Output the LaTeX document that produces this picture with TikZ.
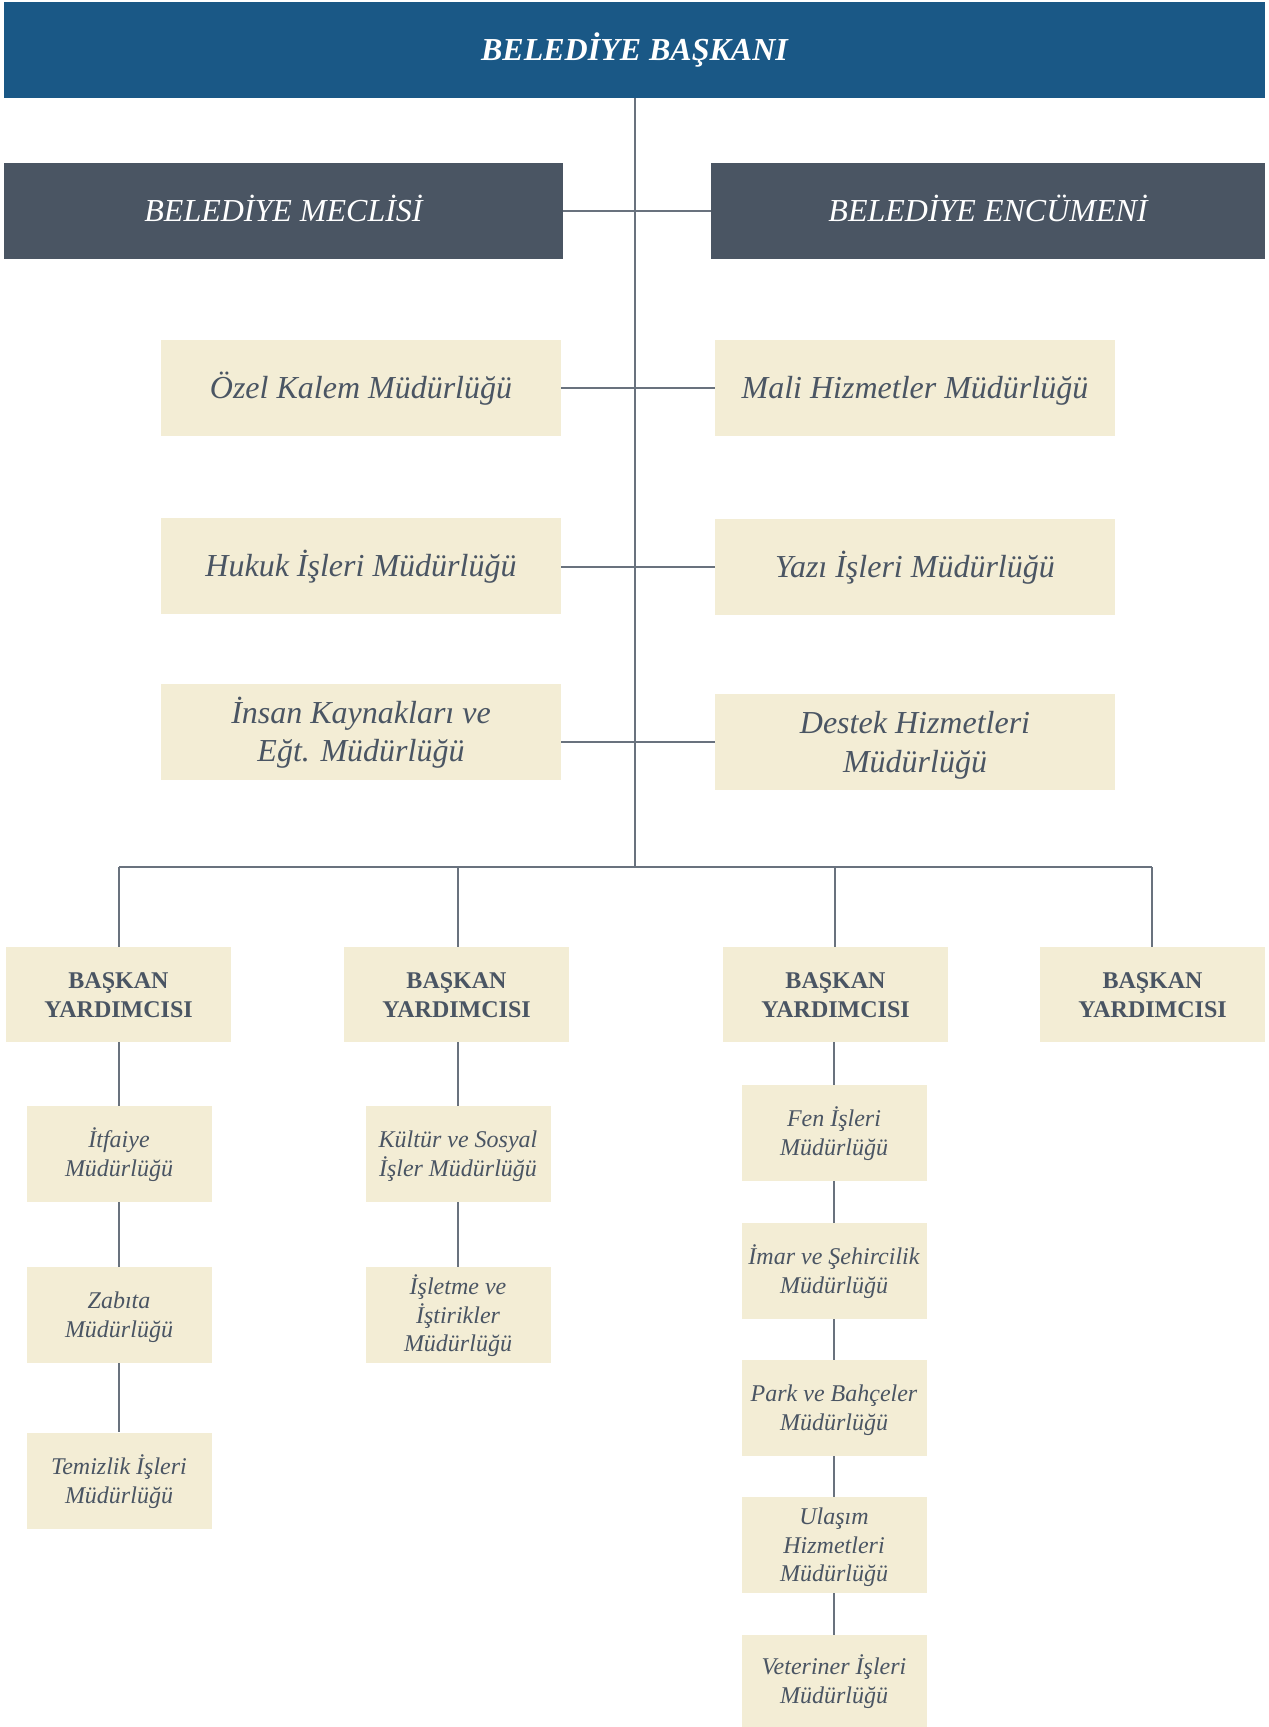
\documentclass[tikz,border=0pt]{standalone}
\usepackage{fontspec}
\setmainfont{Liberation Serif}
\definecolor{topblue}{RGB}{26,88,134}
\definecolor{slate}{RGB}{74,85,99}
\definecolor{beige}{RGB}{243,237,213}
\definecolor{conn}{RGB}{105,114,126}
\newcommand\Lst{\vrule width0pt height30pt depth8.4pt}
\newcommand\Sst{\vrule width0pt height22.5pt depth6.3pt}
\begin{document}
\begin{tikzpicture}[x=1pt,y=-1pt,
  box/.style={rectangle,inner sep=0pt,align=center,anchor=center},
  topbox/.style={box,fill=topblue,text=white,font=\fontsize{32}{38.4}\selectfont\bfseries\itshape},
  darkbox/.style={box,fill=slate,text=white,font=\fontsize{32}{38.4}\selectfont\itshape},
  deptbox/.style={box,fill=beige,text=slate,minimum width=400pt,minimum height=96pt,font=\fontsize{32}{38.4}\selectfont\itshape},
  bybox/.style={box,fill=beige,text=slate,minimum width=225pt,minimum height=95pt,font=\fontsize{24}{28.8}\selectfont\bfseries},
  subbox/.style={box,fill=beige,text=slate,minimum width=185pt,minimum height=96pt,font=\fontsize{24}{28.8}\selectfont\itshape},
  link/.style={draw=conn,line width=1.4pt}]
\useasboundingbox (0,0) rectangle (1269,1727);
% top levels
\node[topbox,minimum width=1261pt,minimum height=96pt] (bask) at (634.5,50) {\Lst BELEDİYE BAŞKANI};
\node[darkbox,minimum width=559pt,minimum height=96pt] (mec) at (283.5,211) {\Lst BELEDİYE MECLİSİ};
\node[darkbox,minimum width=554pt,minimum height=96pt] (enc) at (988,211) {\Lst BELEDİYE ENCÜMENİ};
\node[deptbox] (ozel) at (361,388) {\Lst Özel Kalem Müdürlüğü};
\node[deptbox] (mali) at (915,388) {\Lst Mali Hizmetler Müdürlüğü};
\node[deptbox] (hukuk) at (361,566) {\Lst Hukuk İşleri Müdürlüğü};
\node[deptbox] (yazi) at (915,567) {\Lst Yazı İşleri Müdürlüğü};
\node[deptbox] (insan) at (361,731.5) {\Lst İnsan Kaynakları ve\\\Lst Eğt. Müdürlüğü};
\node[deptbox] (destek) at (915,742) {\Lst Destek Hizmetleri\\\Lst Müdürlüğü};
% bus
\coordinate (busc) at (635,867);
\coordinate (busl) at (119,867);
\coordinate (busr) at (1152,867);
\draw[link] (bask.south -| busc) -- (busc);
\draw[link] (busl) -- (busr);
\draw[link] (mec.east) -- (enc.west);
\draw[link] (ozel.east) -- (mali.west);
\draw[link] (hukuk.east) -- (yazi.west -| hukuk.east);
\draw[link] (yazi.west) -- (yazi.west -| hukuk.east);
\draw[link] (destek.west) -- (destek.west -| insan.east);
% vice presidents
\node[bybox] (by1) at (118.5,994.5) {\Sst BAŞKAN\\\Sst YARDIMCISI};
\node[bybox] (by2) at (456.5,994.5) {\Sst BAŞKAN\\\Sst YARDIMCISI};
\node[bybox] (by3) at (835.5,994.5) {\Sst BAŞKAN\\\Sst YARDIMCISI};
\node[bybox] (by4) at (1152.5,994.5) {\Sst BAŞKAN\\\Sst YARDIMCISI};
\coordinate (b1) at (119,867);
\coordinate (b2) at (458,867);
\coordinate (b3) at (835,867);
\coordinate (b4) at (1152,867);
\draw[link] (b1) -- (b1 |- by1.north);
\draw[link] (b2) -- (b2 |- by2.north);
\draw[link] (b3) -- (b3 |- by3.north);
\draw[link] (b4) -- (b4 |- by4.north);
% column 1
\node[subbox] (itf) at (119,1154) {\Sst İtfaiye\\\Sst Müdürlüğü};
\node[subbox] (zab) at (119,1315) {\Sst Zabıta\\\Sst Müdürlüğü};
\node[subbox] (tem) at (119,1480.5) {\Sst Temizlik İşleri\\\Sst Müdürlüğü};
\draw[link] (by1.south -| itf.north) -- (itf.north);
\draw[link] (itf) -- (zab);
\draw[link] (zab) -- (tem);
% column 2
\node[subbox] (kul) at (458,1154) {\Sst Kültür ve Sosyal\\\Sst İşler Müdürlüğü};
\node[subbox] (isl) at (458,1315) {\Sst İşletme ve\\\Sst İştirikler\\\Sst Müdürlüğü};
\draw[link] (by2.south -| kul.north) -- (kul.north);
\draw[link] (kul) -- (isl);
% column 3
\node[subbox] (fen) at (834,1133) {\Sst Fen İşleri\\\Sst Müdürlüğü};
\node[subbox] (imar) at (834,1271) {\Sst İmar ve Şehircilik\\\Sst Müdürlüğü};
\node[subbox] (park) at (834,1408) {\Sst Park ve Bahçeler\\\Sst Müdürlüğü};
\node[subbox] (ulas) at (834,1545) {\Sst Ulaşım\\\Sst Hizmetleri\\\Sst Müdürlüğü};
\node[subbox,minimum height=92pt] (vet) at (834,1681) {\Sst Veteriner İşleri\\\Sst Müdürlüğü};
\draw[link] (by3.south -| fen.north) -- (fen.north);
\draw[link] (fen) -- (imar);
\draw[link] (imar) -- (park);
\draw[link] (park) -- (ulas);
\draw[link] (ulas) -- (vet);
\end{tikzpicture}
\end{document}
